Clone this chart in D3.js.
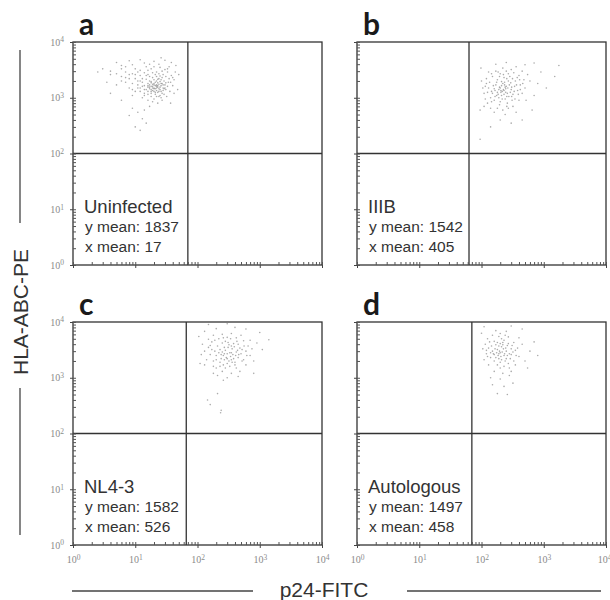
<!DOCTYPE html>
<html>
<head>
<meta charset="utf-8">
<script src="https://cdn.jsdelivr.net/npm/d3@7"></script>
<style>
  body { margin: 0; background: #fff; }
  svg { display: block; }
</style>
</head>
<body>
<div id="chart"></div>
<script>
// flow cytometry panels: HLA-ABC-PE vs p24-FITC

const panelLetters = ["a", "b", "c", "d"];
const sampleNames = ["Uninfected", "IIIB", "NL4-3", "Autologous"];
const yMeans = [1837, 1542, 1582, 1497];
const xMeans = [17, 405, 526, 458];
const gateX = [70, 63, 66, 70];
const gateY = [100, 100, 100, 100];
const decadeTicks = [1, 10, 100, 1000, 10000];

// events as [p24-FITC, HLA-ABC-PE]
const eventsA = [
  [18,1600],[20,1500],[22,1700],[16,1800],[19,1350],[24,1450],[21,1900],[17,1550],[23,1250],[26,1650],
  [15,1400],[20,2100],[25,1950],[18,1200],[22,1350],[28,1500],[14,1650],[19,1750],[27,1800],[21,1150],
  [16,1300],[24,2200],[30,1700],[13,1900],[20,1450],[23,1550],[17,2000],[26,1300],[29,2000],[18,1050],
  [22,2400],[25,1100],[12,1500],[19,2300],[31,1400],[15,2150],[21,1650],[24,1750],[17,1450],[27,1200],
  [8,2200],[9,1800],[10,2600],[11,1500],[7,2900],[6,2400],[12,3100],[14,2800],[10,1300],[9,1100],
  [13,1000],[16,900],[20,950],[34,1900],[38,2500],[33,2900],[36,1300],[40,1650],[30,3200],[25,3500],
  [18,3300],[22,2900],[11,2000],[8,1500],[12,2500],[15,3600],[28,2600],[32,1050],[35,3600],[42,2100],
  [44,2900],[27,900],[23,800],[19,850],[14,1200],[10,3300],[7,1900],[9,2700],[6,3300],[16,2600],
  [3,3300],[4,2600],[2.5,2900],[5,1700],[4,1200],[5,4300],[8,4600],[12,4800],[20,4500],[30,4700],
  [45,3800],[48,1400],[50,2600],[6,900],[9,650],[11,550],[13,420],[15,350],[10,300],[12,260],
  [8,480],[14,600],[17,700],[3.5,1900],[26,5200],[38,4300],[7,3600],[17,4000],[24,4000],[37,800],
  [21,1250],[23,1850],[19,1600],[25,1550],[28,1350],[16,1550],[20,1800],[22,1500],[26,2100],[18,1400],
  [19,1500],[21,1450],[17,1700],[23,1650],[20,1300],[24,1300],[18,1850],[22,2000],[26,1800],[16,1650],
  [25,1400],[28,1700],[14,1400],[13,2200],[30,1500],[27,2300],[21,2600],[15,2500],[11,1700],[10,2200],
  [12,1300],[29,1150],[33,1600],[31,2400],[24,2700],[19,2800],[17,2400],[12,2000],[35,2200],[22,1050],
  [26,1000],[14,1100],[9,1400],[8,2600],[11,2900],[16,3100],[20,3600],[27,3000],[33,3300],[40,2300],
  [42,1200],[37,1900],[7,2300],[6,2000],[5,2700],[4,3000],[6,3800],[9,3900],[14,4200],[18,1950],
  [23,2150],[25,2450],[20,1700],[22,1600],[18,1300],[16,1150],[24,1050],[29,1450],[31,1850],[13,1600]
];
const eventsB = [
  [230,1350],[200,1500],[260,1200],[180,1250],[250,1600],[210,1100],[300,1400],[160,1450],[220,1800],[280,1700],
  [190,1000],[240,950],[320,1150],[150,1200],[270,2000],[210,1650],[340,1600],[170,1700],[230,1150],[290,1250],
  [200,850],[260,800],[180,2100],[350,2000],[140,1000],[310,900],[230,2300],[160,900],[380,1350],[130,1500],
  [120,1800],[110,1200],[125,800],[140,650],[180,650],[220,600],[270,650],[320,700],[400,900],[450,1200],
  [420,1700],[480,2100],[400,2500],[330,2800],[270,2700],[200,2700],[150,2400],[120,2200],[105,1500],[115,950],
  [160,550],[240,500],[360,550],[500,1500],[550,2600],[300,3200],[220,3400],[170,3000],[450,3000],[600,2000],
  [130,2900],[100,2000],[360,3600],[520,900],[110,700],
  [95,180],[98,3400],[250,4300],[700,4200],[900,2900],[1100,1500],[1750,3800],[1500,2400],[650,600],[140,300],
  [200,400],[300,350],[95,600],[700,1100],[800,1800],[450,400],[170,4000],[500,3900],
  [190,1400],[215,1300],[245,1450],[175,1100],[205,1250],[235,1700],[165,1350],[255,1050],
  [225,1400],[205,1350],[245,1250],[195,1550],[265,1500],[185,1150],[215,950],[275,1050],[235,1900],[255,2200],
  [175,1900],[295,1850],[305,1550],[155,1650],[145,1300],[335,1300],[365,1700],[195,2400],[225,2600],[285,2400],
  [315,2200],[135,1900],[125,1250],[145,850],[195,750],[255,700],[305,1050],[345,950],[390,1150],[420,1400],
  [460,1800],[375,2300],[250,3000],[185,2900],[145,2700],[115,1600],[410,2100],[165,1050],[210,1950],[240,1550]
];
const eventsC = [
  [340,2400],[300,2700],[380,2200],[260,2500],[420,2900],[320,2000],[280,3100],[360,3300],[240,2200],[450,2300],
  [300,1800],[400,1900],[220,2800],[500,2700],[350,3700],[270,3500],[230,1900],[330,1600],[480,3400],[200,2500],
  [260,1700],[420,1500],[380,4100],[310,4300],[550,2100],[190,3000],[450,4000],[250,4200],[600,3000],[180,2000],
  [160,2600],[150,3500],[170,4400],[140,2100],[130,3000],[200,1500],[250,1300],[350,1200],[480,1300],[600,1700],
  [700,2500],[650,3700],[550,4600],[420,5200],[300,5300],[220,5000],[150,4900],[120,4000],[115,2600],[130,1700],
  [180,1200],[300,1000],[450,1050],[750,3300],[800,2000],[500,5800],[350,6200],[250,6000],[180,5800],[700,4700],
  [260,900],[210,1100],
  [110,1800],[105,5500],[900,4200],[1100,3200],[1400,4800],[1000,6500],[600,7500],[400,8000],[200,7600],[130,6800],
  [145,400],[235,235],[160,330],[210,520],[240,260],[800,1200],[150,9000],[300,9300],
  [330,2800],[290,2300],[370,2600],[250,2900],[410,2500],[310,3500],[270,2700],[350,2100],[230,3200],[440,3100],
  [390,3600],[320,3900],[280,4500],[210,3700],[460,2600],[520,3200],[360,1900],[240,2600],[200,2100],[170,3200],
  [160,3800],[190,4700],[260,5200],[340,5000],[430,4500],[560,3700],[620,2500],[520,2000],[280,1500],[230,1600],
  [180,1600],[400,1700],[300,2200],[350,2800],[270,2100]
];
const eventsD = [
  [200,2800],[180,3200],[230,2500],[160,2600],[210,3600],[250,3000],[190,2200],[170,3900],[240,2000],[280,2700],
  [150,3000],[220,4300],[200,1900],[300,3300],[140,2300],[260,3800],[180,1700],[230,1600],[160,4500],[290,2200],
  [130,3400],[210,5000],[270,1800],[190,2700],[320,2900],
  [120,2700],[115,4000],[125,5000],[150,5800],[200,6200],[270,5400],[330,4300],[380,3400],[400,2400],[350,1700],
  [300,1300],[220,1200],[160,1300],[130,1700],[110,2100],[105,3300],[170,7000],[250,6800],[400,5200],[450,4000],
  [280,1100],[200,950],[140,1000],
  [100,6300],[110,8200],[300,8500],[450,7500],[600,3000],[700,4400],[550,1500],[180,520],[260,500],[230,700],
  [150,750],[320,800],[800,2500],[500,2000],
  [195,3000],[185,2500],[215,2900],[175,2800],[225,3300],[205,2400],[165,3300],[245,3400],[235,2700],[155,2700],
  [190,3700],[260,2500],[210,2100],[170,2300],[140,2800],[145,3700],[180,4300],[230,4700],[270,4100],[300,2600],
  [310,3800],[250,2200],[200,1500],[160,2000],[125,2400],[120,3100],[135,4400],[190,5500],[240,5800],[350,3100],
  [360,2500],[330,2000],[280,1500],[220,3900],[200,4100]
];
const allEvents = [eventsA, eventsB, eventsC, eventsD];

const W = 610, H = 600;
const colX = [73, 357];
const rowY = [42, 322];
const pw = 249, ph = 223;
const sansFont = "'Liberation Sans', Arial, sans-serif";
const serifFont = "'Liberation Serif', 'DejaVu Serif', serif";

const svg = d3.select("#chart").append("svg")
  .attr("width", W)
  .attr("height", H);

function supLabel(sel) {
  sel.each(function(d) {
    const t = d3.select(this).text("");
    t.append("tspan").text("10");
    t.append("tspan")
      .attr("dy", "-0.45em")
      .attr("font-size", "0.75em")
      .text(Math.round(Math.log10(d)));
  });
}

panelLetters.forEach((letter, i) => {
  const col = i % 2, row = Math.floor(i / 2);
  const g = svg.append("g")
    .attr("transform", `translate(${colX[col]}, ${rowY[row]})`);

  const x = d3.scaleLog().domain([1, 10000]).range([0, pw]);
  const y = d3.scaleLog().domain([1, 10000]).range([ph, 0]);

  // dots
  g.append("g").selectAll("circle")
    .data(allEvents[i])
    .enter()
    .append("circle")
    .attr("cx", d => x(d[0]))
    .attr("cy", d => y(d[1]))
    .attr("r", 0.8)
    .attr("fill", "#666")
    .attr("opacity", 0.55);

  // frame + quadrant gates
  g.append("rect")
    .attr("width", pw).attr("height", ph)
    .attr("fill", "none").attr("stroke", "#333").attr("stroke-width", 1.3);
  g.append("line")
    .attr("x1", x(gateX[i])).attr("x2", x(gateX[i]))
    .attr("y1", 0).attr("y2", ph)
    .attr("stroke", "#333").attr("stroke-width", 1.3);
  g.append("line")
    .attr("x1", 0).attr("x2", pw)
    .attr("y1", y(gateY[i])).attr("y2", y(gateY[i]))
    .attr("stroke", "#333").attr("stroke-width", 1.3);

  // minor ticks inside, major ticks outside
  const minor = x.ticks();
  const yMinor = g.append("g")
    .call(d3.axisLeft(y).tickValues(minor).tickSize(-3).tickFormat(""));
  const xMinor = g.append("g")
    .attr("transform", `translate(0, ${ph})`)
    .call(d3.axisBottom(x).tickValues(minor).tickSize(-3).tickFormat(""));
  [yMinor, xMinor].forEach(a => {
    a.select(".domain").remove();
    a.selectAll("line").attr("stroke", "#555");
  });

  const yMajor = g.append("g")
    .call(d3.axisLeft(y).tickValues(decadeTicks).tickSize(3).tickPadding(6));
  const xMajor = g.append("g")
    .attr("transform", `translate(0, ${ph})`)
    .call(d3.axisBottom(x).tickValues(decadeTicks).tickSize(3).tickPadding(8));
  [yMajor, xMajor].forEach(a => {
    a.select(".domain").remove();
    a.selectAll("line").attr("stroke", "#444");
    a.selectAll("text")
      .attr("font-family", serifFont)
      .attr("font-size", 10)
      .attr("fill", "#8a8a8a");
  });
  if (col === 0) yMajor.selectAll("text").call(supLabel);
  else yMajor.selectAll("text").remove();
  if (row === 1) xMajor.selectAll("text").call(supLabel);
  else xMajor.selectAll("text").remove();
  // last label on the far right sits at the page edge
  if (row === 1 && col === 1) {
    xMajor.selectAll("text").filter(d => d === 10000).attr("text-anchor", "end").attr("dx", 5);
  }

  // panel letter
  g.append("text")
    .attr("x", 6).attr("y", -7)
    .attr("font-family", "Lato, 'Open Sans', sans-serif")
    .attr("font-weight", 700)
    .attr("font-size", 30)
    .attr("fill", "#1a1a1a")
    .text(letter);

  // sample label and means
  g.append("text")
    .attr("x", 11).attr("y", ph - 52)
    .attr("font-family", sansFont)
    .attr("font-size", 18.5)
    .attr("fill", "#333")
    .text(sampleNames[i]);
  g.append("text")
    .attr("x", 12).attr("y", ph - 33)
    .attr("font-family", sansFont)
    .attr("font-size", 15.5)
    .attr("fill", "#333")
    .text(`y mean: ${yMeans[i]}`);
  g.append("text")
    .attr("x", 12).attr("y", ph - 13)
    .attr("font-family", sansFont)
    .attr("font-size", 15.5)
    .attr("fill", "#333")
    .text(`x mean: ${xMeans[i]}`);
});

// axis titles with rules
svg.append("text")
  .attr("transform", "translate(28, 312) rotate(-90)")
  .attr("text-anchor", "middle")
  .attr("font-family", sansFont)
  .attr("font-size", 21)
  .attr("fill", "#333")
  .text("HLA-ABC-PE");
svg.append("line").attr("x1", 20).attr("x2", 20).attr("y1", 50).attr("y2", 223)
  .attr("stroke", "#444").attr("stroke-width", 1.3);
svg.append("line").attr("x1", 20).attr("x2", 20).attr("y1", 388).attr("y2", 535)
  .attr("stroke", "#444").attr("stroke-width", 1.3);

svg.append("text")
  .attr("x", 324).attr("y", 597)
  .attr("text-anchor", "middle")
  .attr("font-family", sansFont)
  .attr("font-size", 21)
  .attr("fill", "#333")
  .text("p24-FITC");
svg.append("line").attr("x1", 72).attr("x2", 253).attr("y1", 591).attr("y2", 591)
  .attr("stroke", "#444").attr("stroke-width", 1.3);
svg.append("line").attr("x1", 407).attr("x2", 601).attr("y1", 591).attr("y2", 591)
  .attr("stroke", "#444").attr("stroke-width", 1.3);
</script>
</body>
</html>
